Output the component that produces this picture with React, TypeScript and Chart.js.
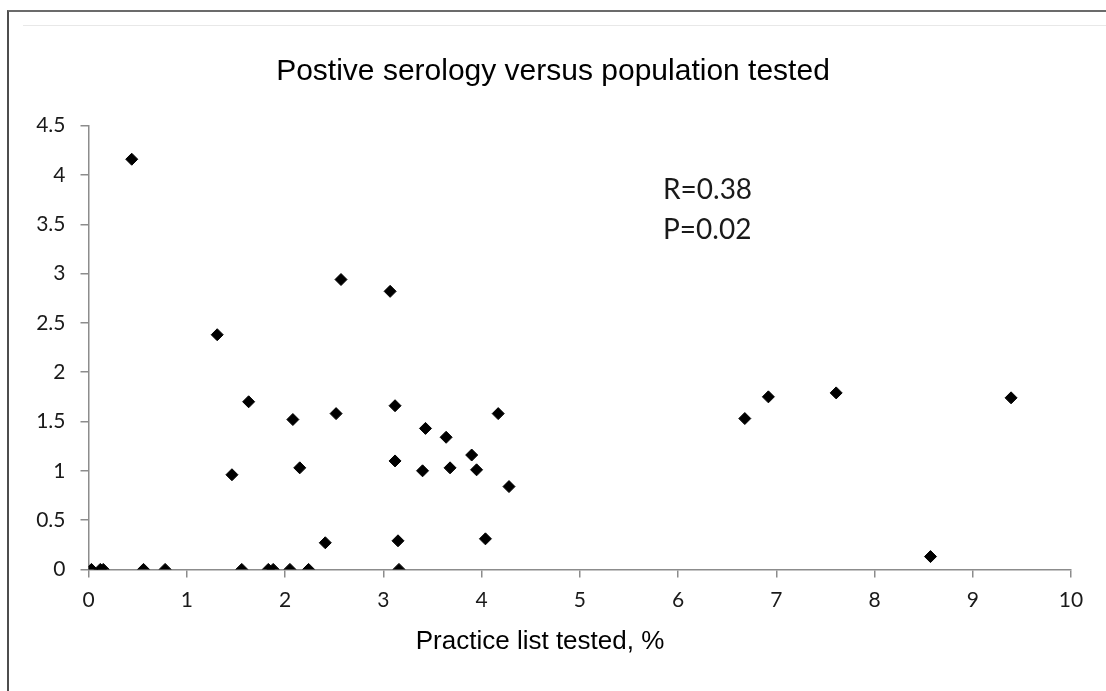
import React, { useEffect, useRef } from "react";
import { Chart, registerables } from "chart.js";

Chart.register(...registerables);

// Data
const practiceListTested: number[] = [
  0.03, 0.12, 0.15, 0.44, 0.56, 0.78, 1.31, 1.46, 1.56, 1.63,
  1.83, 1.88, 2.05, 2.08, 2.15, 2.24, 2.41, 2.52, 2.57, 3.07,
  3.12, 3.12, 3.15, 3.16, 3.40, 3.43, 3.64, 3.68, 3.90, 3.95,
  4.04, 4.17, 4.28, 6.68, 6.92, 7.61, 8.57, 9.39,
];
const positiveSerology: number[] = [
  0, 0, 0, 4.16, 0, 0, 2.38, 0.96, 0, 1.70,
  0, 0, 0, 1.52, 1.03, 0, 0.27, 1.58, 2.94, 2.82,
  1.66, 1.10, 0.29, 0, 1.00, 1.43, 1.34, 1.03, 1.16, 1.01,
  0.31, 1.58, 0.84, 1.53, 1.75, 1.79, 0.13, 1.74,
];

const chartTitle = "Postive serology versus population tested";
const xAxisTitle = "Practice list tested, %";
const statLines = ["R=0.38", "P=0.02"];
const xTicks = { min: 0, max: 10, step: 1 };
const yTicks = { min: 0, max: 4.5, step: 0.5 };

const TICK_FONT = "Lato, 'Open Sans', sans-serif";
const TEXT_FONT = "'Liberation Sans', Arial, sans-serif";

const overlayText = {
  id: "overlayText",
  afterDraw(chart: any) {
    const ctx = chart.ctx;
    ctx.save();
    ctx.fillStyle = "#000";
    ctx.textBaseline = "alphabetic";
    // chart title
    ctx.font = `30px ${TEXT_FONT}`;
    ctx.textAlign = "center";
    ctx.fillText(chartTitle, 553, 80);
    // x axis title
    ctx.font = `26px ${TEXT_FONT}`;
    ctx.fillText(xAxisTitle, 540, 649);
    // statistics annotation
    ctx.font = `28px ${TICK_FONT}`;
    ctx.fillStyle = "#1a1a1a";
    ctx.textAlign = "left";
    statLines.forEach((t, i) => ctx.fillText(t, 663, 199 + i * 40));
    ctx.restore();
  },
};

export default function App() {
  const canvasRef = useRef<HTMLCanvasElement | null>(null);

  useEffect(() => {
    if (!canvasRef.current) return;
    const points = practiceListTested.map((x, i) => ({ x, y: positiveSerology[i] }));
    const axisColor = "#8c8c8c";
    const chart = new Chart(canvasRef.current, {
      type: "scatter",
      data: {
        datasets: [
          {
            label: "Practices",
            data: points,
            pointStyle: "rectRot",
            pointRadius: 6,
            pointBorderWidth: 1,
            backgroundColor: "#000",
            borderColor: "#000",
          },
        ],
      },
      options: {
        animation: false,
        responsive: false,
        events: [],
        layout: { padding: { left: 0, right: 35, top: 125.7, bottom: 0 } },
        plugins: {
          legend: { display: false },
          tooltip: { enabled: false },
          title: { display: false },
        },
        scales: {
          x: {
            type: "linear",
            min: xTicks.min,
            max: xTicks.max,
            afterFit: (s: any) => {
              s.height = 121.6;
            },
            ticks: {
              stepSize: xTicks.step,
              color: "#1a1a1a",
              font: { family: TICK_FONT, size: 21 },
              padding: 10,
              maxRotation: 0,
            },
            grid: { drawOnChartArea: false, drawTicks: true, tickLength: 8, color: axisColor, lineWidth: 1.5 },
            border: { display: true, color: axisColor, width: 1.5 },
          },
          y: {
            type: "linear",
            min: yTicks.min,
            max: yTicks.max,
            afterFit: (s: any) => {
              s.width = 88.5;
            },
            ticks: {
              stepSize: yTicks.step,
              color: "#1a1a1a",
              font: { family: TICK_FONT, size: 21 },
              padding: 15,
              callback: (v: any) => String(Number(v)),
            },
            grid: { drawOnChartArea: false, drawTicks: true, tickLength: 8, color: axisColor, lineWidth: 1.5 },
            border: { display: true, color: axisColor, width: 1.5 },
          },
        },
      },
      plugins: [overlayText],
    } as any);
    return () => chart.destroy();
  }, []);

  return (
    <div style={{ position: "fixed", left: 0, top: 0, width: 1106, height: 691, background: "#fff", overflow: "hidden" }}>
      <div
        style={{
          position: "absolute",
          left: 7,
          top: 10,
          right: -10,
          bottom: -10,
          borderLeft: "2px solid #4d4d4d",
          borderTop: "2px solid #6b6b6b",
        }}
      />
      <div style={{ position: "absolute", left: 23, top: 25, right: 0, height: 1, background: "#e8e8e8" }} />
      <canvas ref={canvasRef} width={1106} height={691} style={{ position: "absolute", left: 0, top: 0 }} />
    </div>
  );
}
